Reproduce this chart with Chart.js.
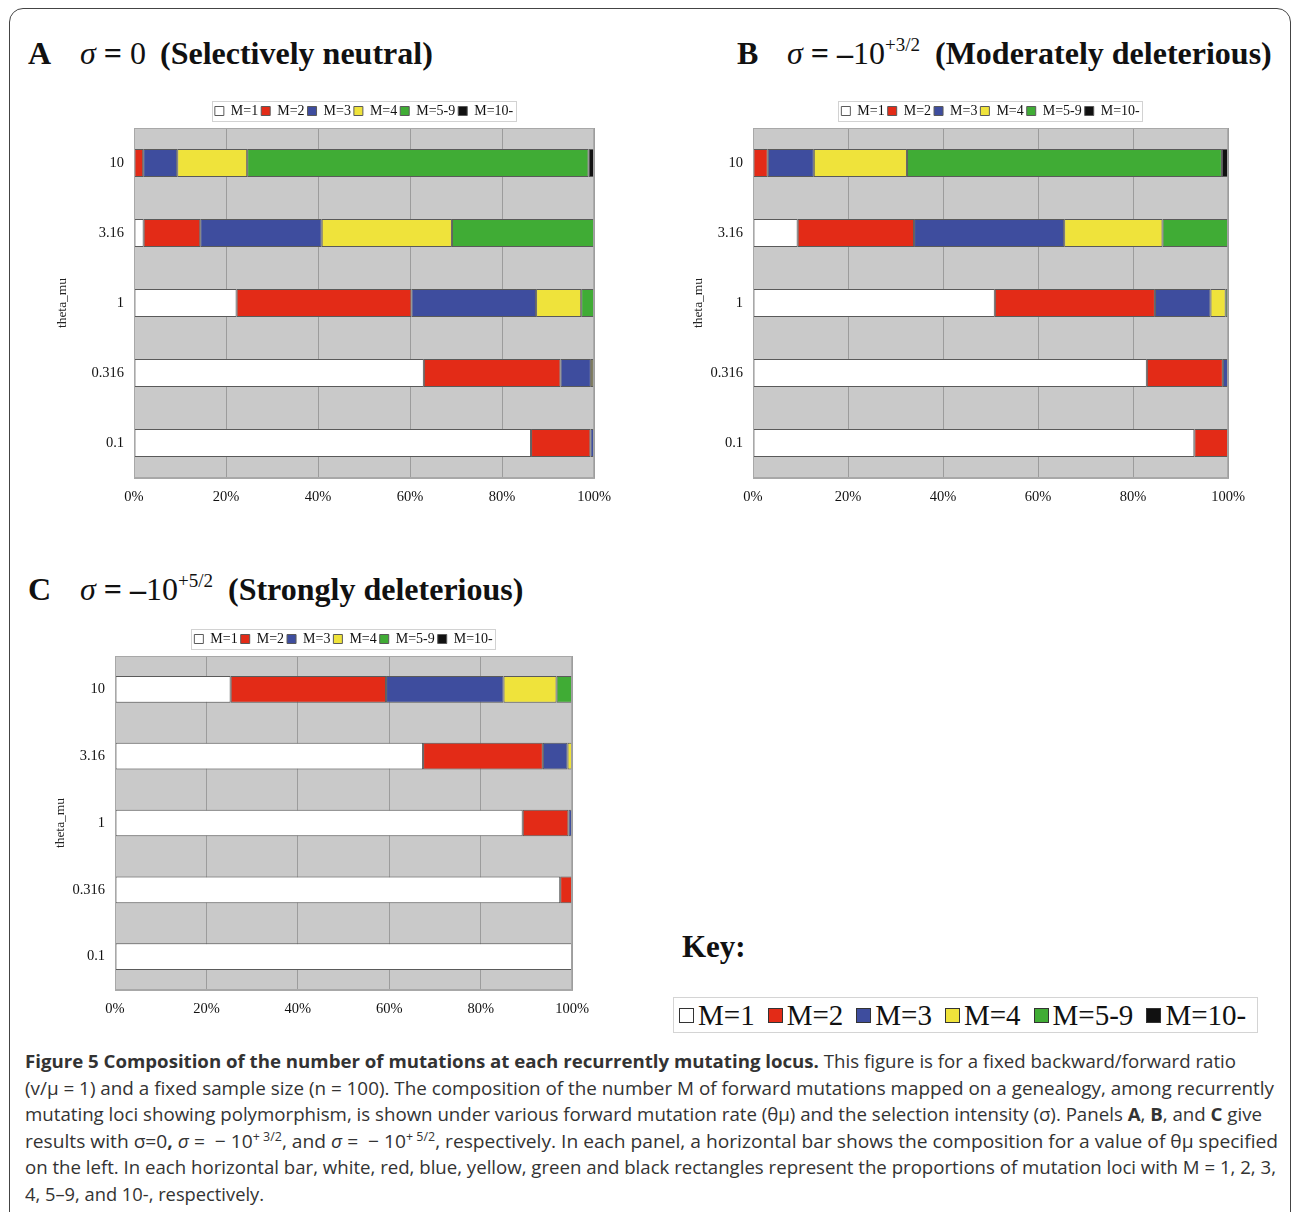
<!DOCTYPE html>
<html>
<head>
<meta charset="utf-8">
<script src="https://cdn.jsdelivr.net/npm/chart.js@4.4.1/dist/chart.umd.min.js"></script>
<style>
html, body { margin: 0; padding: 0; background: #fff; }
#page { position: relative; width: 1292px; height: 1212px; overflow: hidden; font-family: "Liberation Serif", "Times New Roman", serif; color: #111; }
#frame { position: absolute; left: 9px; top: 8px; width: 1280px; height: 1300px; border: 1.5px solid #444; border-radius: 14px; }
.cv { position: absolute; }
.t { position: absolute; font-size: 32px; line-height: 32px; white-space: nowrap; }
.t b { font-weight: bold; }
.t sup { font-size: 19px; vertical-align: 13px; line-height: 0; }
#key { position: absolute; left: 682px; top: 929px; font-size: 31px; font-weight: bold; }
#keybox { position: absolute; left: 673px; top: 997px; width: 583px; height: 34px; border: 1px solid #d4d4d4; display: flex; align-items: center; font-size: 29px; white-space: nowrap; }
#keybox .it { display: flex; align-items: center; margin-left: 5px; margin-right: 8px; }
#keybox .sq { display: inline-block; width: 13px; height: 13px; border: 1px solid #333; margin-right: 4px; }
#cap { position: absolute; left: 25px; top: 1048px; font-family: "Open Sans", sans-serif; font-size: 18.5px; line-height: 26.6px; color: #333; }
#cap .cl { display: block; white-space: nowrap; transform-origin: 0 0; width: max-content; }
#cap sup { font-size: 12px; line-height: 0; }
</style>
</head>
<body>
<div id="page">
  <div id="frame"></div>

  <div class="t" style="left:28px;top:37px;"><b>A</b></div>
  <div class="t" style="left:80px;top:37px;"><i>σ</i><b> = </b>0</div>
  <div class="t" style="left:160px;top:37px;"><b>(Selectively neutral)</b></div>

  <div class="t" style="left:737px;top:37px;"><b>B</b></div>
  <div class="t" style="left:787px;top:37px;"><i>σ</i><b> = –</b>10<sup>+3/2</sup></div>
  <div class="t" style="left:935px;top:37px;"><b>(Moderately deleterious)</b></div>

  <div class="t" style="left:28px;top:573px;"><b>C</b></div>
  <div class="t" style="left:80px;top:573px;"><i>σ</i><b> = –</b>10<sup>+5/2</sup></div>
  <div class="t" style="left:228px;top:573px;"><b>(Strongly deleterious)</b></div>

  <div class="cv" style="left:40px;top:101px;width:581px;height:418px;"><canvas id="chartA"></canvas></div>
  <div class="cv" style="left:676px;top:101px;width:579px;height:418px;"><canvas id="chartB"></canvas></div>
  <div class="cv" style="left:38px;top:629px;width:561px;height:402px;"><canvas id="chartC"></canvas></div>

  <div id="key">Key:</div>
  <div id="keybox"></div>

  <div id="cap">
    <span class="cl" data-w="1211"><b>Figure 5 Composition of the number of mutations at each recurrently mutating locus.</b> This figure is for a fixed backward/forward ratio</span>
    <span class="cl" data-w="1249">(v/μ = 1) and a fixed sample size (n = 100). The composition of the number M of forward mutations mapped on a genealogy, among recurrently</span>
    <span class="cl" data-w="1237">mutating loci showing polymorphism, is shown under various forward mutation rate (θμ) and the selection intensity (σ). Panels <b>A</b>, <b>B</b>, and <b>C</b> give</span>
    <span class="cl" data-w="1253">results with σ=0<b>,</b> <i>σ</i> = &nbsp;− 10<sup>+ 3/2</sup>, and <i>σ</i> = &nbsp;− 10<sup>+ 5/2</sup>, respectively. In each panel, a horizontal bar shows the composition for a value of θμ specified</span>
    <span class="cl" data-w="1251">on the left. In each horizontal bar, white, red, blue, yellow, green and black rectangles represent the proportions of mutation loci with M = 1, 2, 3,</span>
    <span class="cl" data-w="239">4, 5–9, and 10-, respectively.</span>
  </div>
</div>

<script>
// theta_mu categories, top to bottom
var thetaLabels = ['10', '3.16', '1', '0.316', '0.1'];
var seriesNames = ['M=1', 'M=2', 'M=3', 'M=4', 'M=5-9', 'M=10-'];
var seriesColors = ['#ffffff', '#e32b17', '#3e4d9e', '#efe33b', '#40ac35', '#111111'];

// panel A, sigma = 0 (percent of loci)
var a_m1 = [0, 2.1, 22.3, 63.0, 86.3];
var a_m2 = [2.0, 12.3, 38.0, 29.7, 12.9];
var a_m3 = [7.4, 26.4, 27.1, 6.6, 0.8];
var a_m4 = [15.2, 28.3, 9.8, 0.5, 0];
var a_m5 = [74.2, 30.9, 2.8, 0.2, 0];
var a_m10 = [1.2, 0, 0, 0, 0];

// panel B, sigma = -10^(3/2)
var b_m1 = [0, 9.4, 50.9, 82.9, 92.9];
var b_m2 = [3.1, 24.5, 33.7, 16.0, 7.1];
var b_m3 = [9.7, 31.6, 11.7, 1.1, 0];
var b_m4 = [19.6, 20.7, 3.2, 0, 0];
var b_m5 = [66.3, 13.8, 0.5, 0, 0];
var b_m10 = [1.3, 0, 0, 0, 0];

// panel C, sigma = -10^(5/2)
var c_m1 = [25.3, 67.4, 89.2, 97.4, 100];
var c_m2 = [34.0, 26.2, 10.0, 2.6, 0];
var c_m3 = [25.7, 5.4, 0.8, 0, 0];
var c_m4 = [11.6, 1.0, 0, 0, 0];
var c_m5 = [3.4, 0, 0, 0, 0];
var c_m10 = [0, 0, 0, 0, 0];

var serif = '"Liberation Serif", "Times New Roman", serif';

// grey plot background + outline, and the little box round the legend
var panelLook = {
    id: 'panelLook',
    beforeDraw: function (chart) {
        var a = chart.chartArea, ctx = chart.ctx;
        ctx.save();
        ctx.fillStyle = '#c9c9c9';
        ctx.fillRect(a.left, a.top, a.right - a.left, a.bottom - a.top);
        ctx.restore();
    },
    afterDraw: function (chart) {
        var a = chart.chartArea, ctx = chart.ctx;
        ctx.save();
        ctx.strokeStyle = '#a8a8a8';
        ctx.lineWidth = 1;
        ctx.strokeRect(a.left + 0.5, a.top + 0.5, a.right - a.left - 1, a.bottom - a.top - 1);
        var hb = chart.legend.legendHitBoxes;
        if (hb && hb.length) {
            var l = Infinity, r = -Infinity, t = Infinity, b = -Infinity;
            hb.forEach(function (h) {
                l = Math.min(l, h.left); r = Math.max(r, h.left + h.width);
                t = Math.min(t, h.top); b = Math.max(b, h.top + h.height);
            });
            ctx.strokeStyle = '#d2d2d2';
            ctx.strokeRect(Math.round(l - 3) + 0.5, Math.round(t - 3) + 0.5, Math.round(r - l + 6), Math.round(b - t + 6));
        }
        ctx.restore();
    }
};

function makeChart(id, series, yWidth, xHeight) {
    var datasets = [];
    for (var i = 0; i < series.length; i++) {
        datasets.push({
            label: seriesNames[i],
            data: series[i],
            backgroundColor: seriesColors[i],
            borderColor: '#5a5a5a',
            borderWidth: 1,
            borderSkipped: false,
            categoryPercentage: 1,
            barPercentage: 0.4
        });
    }
    return new Chart(document.getElementById(id), {
        type: 'bar',
        data: { labels: thetaLabels, datasets: datasets },
        options: {
            indexAxis: 'y',
            responsive: true,
            maintainAspectRatio: false,
            animation: false,
            layout: { padding: { left: 10, right: 18, top: 0, bottom: 0 } },
            plugins: {
                tooltip: { enabled: false },
                legend: {
                    position: 'top',
                    fullSize: false,
                    labels: {
                        boxWidth: 9,
                        boxHeight: 9,
                        padding: 3,
                        color: '#111',
                        font: { family: serif, size: 14 }
                    }
                }
            },
            scales: {
                x: {
                    stacked: true,
                    min: 0,
                    max: 100,
                    afterFit: function (s) { s.height = xHeight; },
                    grid: { color: '#9c9c9c', drawTicks: false },
                    border: { color: '#a8a8a8' },
                    ticks: {
                        stepSize: 20,
                        padding: 10,
                        color: '#111',
                        font: { family: serif, size: 14.5 },
                        callback: function (v) { return v + '%'; }
                    }
                },
                y: {
                    stacked: true,
                    afterFit: function (s) { s.width = yWidth; },
                    grid: { display: false, drawTicks: false },
                    border: { color: '#a8a8a8' },
                    ticks: { padding: 10, color: '#111', font: { family: serif, size: 14.5 } },
                    title: {
                        display: true,
                        text: 'theta_mu',
                        color: '#222',
                        font: { family: serif, size: 13.5 },
                        padding: { top: 4, bottom: 4 }
                    }
                }
            }
        },
        plugins: [panelLook]
    });
}

makeChart('chartA', [a_m1, a_m2, a_m3, a_m4, a_m5, a_m10], 84, 41);
makeChart('chartB', [b_m1, b_m2, b_m3, b_m4, b_m5, b_m10], 67, 41);
makeChart('chartC', [c_m1, c_m2, c_m3, c_m4, c_m5, c_m10], 67, 41);

// big key at the bottom right
var keyBox = document.getElementById('keybox');
seriesNames.forEach(function (name, i) {
    var it = document.createElement('span');
    it.className = 'it';
    it.innerHTML = '<span class="sq" style="background:' + seriesColors[i] + '"></span>' + name;
    keyBox.appendChild(it);
});

// squeeze each caption line to the width it has in the figure
function fitCaption() {
    document.querySelectorAll('#cap .cl').forEach(function (el) {
        el.style.transform = '';
        var w = el.getBoundingClientRect().width;
        var target = parseFloat(el.getAttribute('data-w'));
        el.style.transform = 'scaleX(' + (target / w) + ')';
    });
}
fitCaption();
if (document.fonts && document.fonts.ready) document.fonts.ready.then(fitCaption);
</script>
</body>
</html>
